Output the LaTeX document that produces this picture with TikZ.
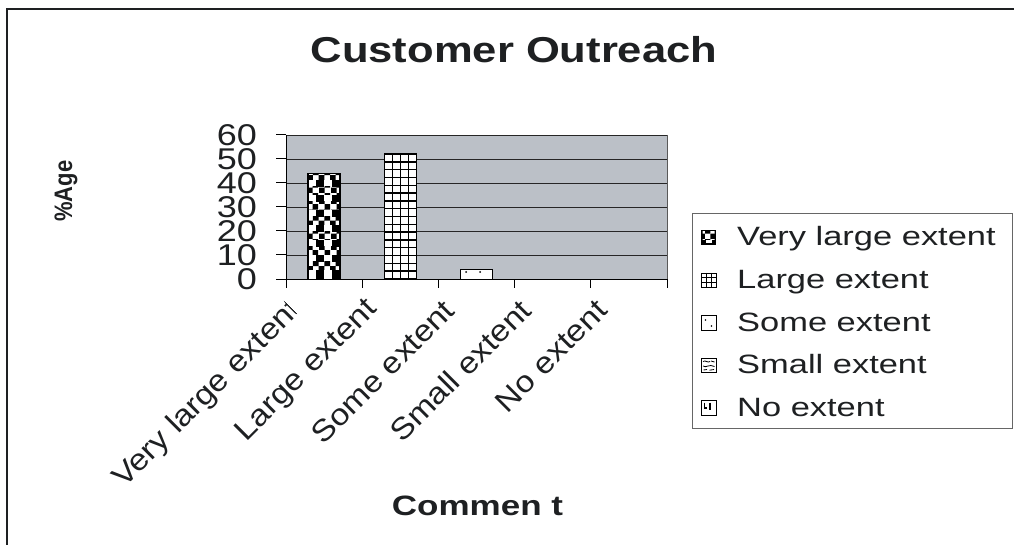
\documentclass[tikz,border=0pt]{standalone}
\usepackage{fontspec}
\setmainfont{Liberation Sans}
\usepackage{graphicx}
\usetikzlibrary{patterns}
\definecolor{plotbg}{RGB}{187,192,199}
\definecolor{ink}{RGB}{30,32,34}
\newcommand\stretchx[2]{\scalebox{#1}[1]{#2}}
\begin{document}
\begin{tikzpicture}[x=1pt,y=-1pt,inner sep=0pt,
  ylab/.style={anchor=east,text=ink,font=\fontsize{30}{30}\selectfont},
  xlab/.style={anchor=east,rotate=45,text=ink,font=\fontsize{30}{30}\selectfont},
  leglab/.style={anchor=base west,text=ink,font=\fontsize{26.5}{26.5}\selectfont},
  gridln/.style={black!85,line width=0.8pt},
  barline/.style={black,line width=1.5pt},
  symbox/.style={black,line width=0.9pt}]
\useasboundingbox (0,0) rectangle (1014,545);
% outer frame
\draw[ink,line width=2pt] (7,546) -- (7,9) -- (1016,9);
% title
\node[anchor=base,text=ink,font=\fontsize{36}{36}\selectfont\bfseries] (title) at (514,63) {\stretchx{1.21}{Customer Outreach}};
% plot area
\fill[plotbg] (286,135) rectangle (667,279);
\foreach \v in {1,...,6} \draw[gridln] (286,{279-24*\v}) -- (667,{279-24*\v});
\draw[gray!70!black,line width=0.8pt] (667,135) -- (667,279);
% bars
\begin{scope}
  \clip (308,173.4) rectangle (340,279);
  \fill[white] (308,173.4) rectangle (340,279);
  \fill[black] (316,170) rectangle (324,280);
  \fill[black] (332,170) rectangle (340,280);
  \foreach \k in {0,...,6} {
    \fill[white] (308,{171.7+15*\k}) rectangle (340,{180+15*\k});
    \fill[pattern=checkerboard,pattern color=black] (308,{171.7+15*\k}) rectangle (340,{180+15*\k});
  }
\end{scope}
\draw[barline] (308,279) -- (308,173.4) -- (340,173.4) -- (340,279);
\begin{scope}
  \clip (384.3,154.2) rectangle (416.3,279);
  \fill[white] (384.3,154.2) rectangle (416.3,279);
  \foreach \i in {1,2,3} \draw[black,line width=1.4pt] ({384.3+8*\i},150) -- ({384.3+8*\i},280);
  \foreach \j in {1,...,16} \draw[black,line width=1.4pt] (380,{154.2+7.8*\j}) -- (420,{154.2+7.8*\j});
\end{scope}
\draw[barline] (384.3,279) -- (384.3,154.2) -- (416.3,154.2) -- (416.3,279);
\fill[white] (460.5,269.4) rectangle (492.5,279);
\draw[barline] (460.5,279) -- (460.5,269.4) -- (492.5,269.4) -- (492.5,279);
\fill[black] (466,272) circle (1);
\fill[black] (480,272) circle (1);
% axes
\draw[black,line width=1pt] (286,135) -- (286,279) -- (667,279);
\foreach \v/\t in {0/0,1/10,2/20,3/30,4/40,5/50,6/60} {
  \draw[black,line width=1pt] (276,{279-24*\v}) -- (286,{279-24*\v});
  \node[ylab] (y\v) at (257,{279-24*\v}) {\stretchx{1.2}{\t}};
}
\foreach \i in {0,...,5} \draw[black,line width=1pt] ({286+76.2*\i},279) -- ({286+76.2*\i},288);
% category labels
\begin{scope}
  \clip (0,200) -- (183.5,200) -- (583.5,600) -- (0,600) -- cycle;
  \node[xlab] (c1) at ({286+11},305) {\stretchx{1.12}{Very large extent}};
\end{scope}
\node[xlab] (c2) at ({362.2+11},305) {\stretchx{1.12}{Large extent}};
\node[xlab] (c3) at ({438.4+11},305) {\stretchx{1.12}{Some extent}};
\node[xlab] (c4) at ({514.6+11},305) {\stretchx{1.12}{Small extent}};
\node[xlab] (c5) at ({590.8+11},305) {\stretchx{1.12}{No extent}};
% axis titles
\node[rotate=90,text=ink,font=\fontsize{22}{22}\selectfont\bfseries] (ytitle) at (66,191) {\scalebox{1}[1.15]{\%Age}};
\node[anchor=base,text=ink,font=\fontsize{28}{28}\selectfont\bfseries] (xtitle) at (477.5,515) {\stretchx{1.25}{Commen t}};
% legend
\draw[gray!80!black,line width=0.8pt] (692,213) rectangle (1012,428);
% symbol 1
\fill[black] (701,230.5) rectangle (716,245);
\fill[pattern=checkerboard,pattern color=white] (702.5,232) rectangle (714.5,239.5);
\fill[white] (705.5,240.5) rectangle (712,243.5);
\node[leglab] (l1) at (737,246) {\stretchx{1.3}{Very large extent}};
% symbol 2
\fill[white] (701,273) rectangle (716,287.5);
\draw[symbox] (701,273) rectangle (716,287.5);
\draw[symbox] (706,273) -- (706,287.5) (711,273) -- (711,287.5) (701,277.8) -- (716,277.8) (701,282.6) -- (716,282.6);
\node[leglab] (l2) at (737,288.5) {\stretchx{1.3}{Large extent}};
% symbol 3
\fill[white] (701,315.5) rectangle (716,330);
\draw[symbox] (701,315.5) rectangle (716,330);
\fill[black] (705.5,320) circle (0.9);
\fill[black] (711.5,326) circle (0.9);
\node[leglab] (l3) at (737,331) {\stretchx{1.3}{Some extent}};
% symbol 4
\fill[white] (701,358) rectangle (716,372.5);
\draw[symbox] (701,358) rectangle (716,372.5);
\draw[black,line width=0.8pt] (703,361.5) .. controls (705.5,359.5) and (707.5,363.5) .. (710,361.5) (711,361) -- (714.5,362)
  (703,366) .. controls (706,368.5) and (709,363.5) .. (714.5,366.5) (703.5,370) -- (707,369.5) (709.5,370.2) -- (714,369.5);
\node[leglab] (l4) at (737,373.5) {\stretchx{1.3}{Small extent}};
% symbol 5
\fill[white] (701,400.5) rectangle (716,415);
\draw[symbox] (701,400.5) rectangle (716,415);
\draw[black,line width=1.1pt] (710,402.5) -- (710,409.5) (704.5,402.5) -- (704.5,408) -- (706.5,408);
\node[leglab] (l5) at (737,416) {\stretchx{1.3}{No extent}};
\end{tikzpicture}
\end{document}
